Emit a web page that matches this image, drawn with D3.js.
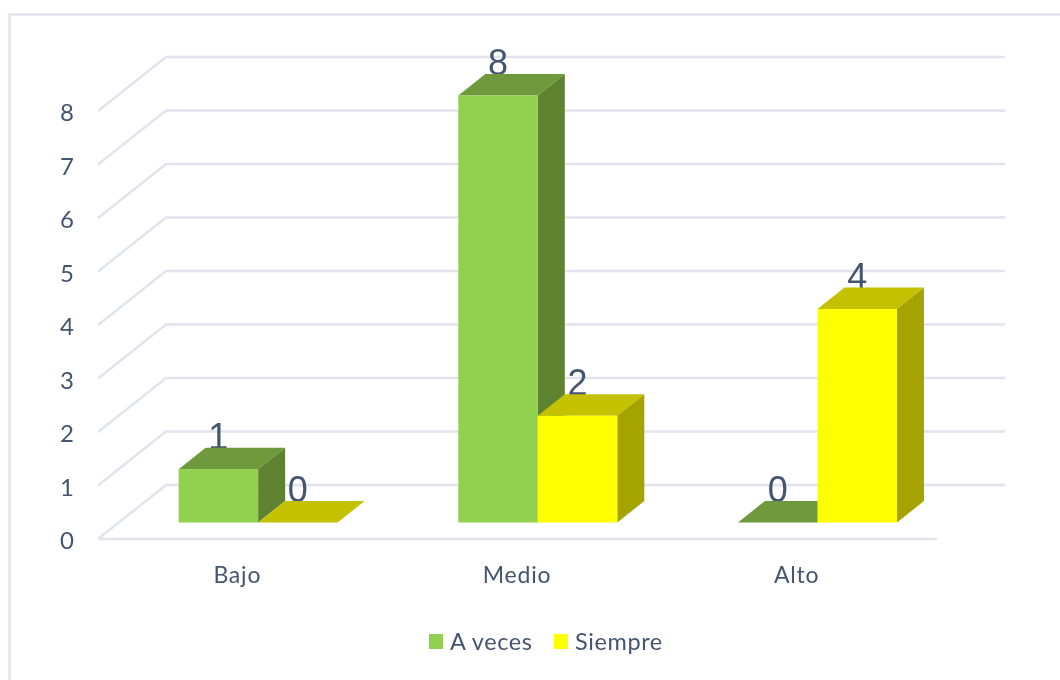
<!DOCTYPE html>
<html><head><meta charset="utf-8">
<script src="https://cdn.jsdelivr.net/npm/d3@7"></script>
<style>html,body{margin:0;padding:0;background:#fff}svg{display:block;filter:blur(0.45px)}text{font-family:Lato,"Open Sans",sans-serif}</style>
</head><body><svg id="c" width="1060" height="680"></svg>
<script>
const categories = ["Bajo","Medio","Alto"];
const seriesNames = ["A veces","Siempre"];
const aVeces = [1,8,0];
const siempre = [0,2,4];
const yTicks = [0,1,2,3,4,5,6,7,8];
const seriesValues = [aVeces, siempre];
const fronts = ["#92d050","#ffff00"];
const tops = ["#6f9a3c","#c4c200"];
const sides = ["#5e8230","#a5a300"];
const gridColor = "#e0e4ec", textColor = "#44556f";

const svg = d3.select("#c");
const x = d3.scaleBand().domain(categories).range([98,937]);
const y = d3.scaleLinear().domain([0,8]).range([539,111]);
const barY = d3.scaleLinear().domain([0,8]).range([522.5,95.5]);
const dx = 68, dy = -54;
const barDx = 27, barDy = -21.5;
const inDx = 20.3;
const groupW = 159;
const xs = d3.scaleBand().domain(d3.range(seriesNames.length)).range([0,groupW]);

svg.append("path").attr("d","M9.5,680V14.5H1060").attr("fill","none").attr("stroke","#e0e4ec").attr("stroke-width",2.5);

const grid = svg.append("g").attr("fill","none").attr("stroke",gridColor).attr("stroke-width",2.4);
grid.selectAll("path").data(yTicks).join("path")
  .attr("d",t=>`M${x.range()[0]},${y(t)}L${x.range()[0]+dx},${y(t)+dy}H${x.range()[1]+dx}`);
grid.append("path").attr("d",`M${x.range()[0]},${y(0)}H${x.range()[1]}`);

svg.append("g").selectAll("text").data(yTicks).join("text")
  .attr("x",67).attr("y",t=>y(t)+10).attr("text-anchor","middle")
  .attr("font-size",24).attr("fill",textColor).text(t=>t);

svg.append("g").selectAll("text").data(categories).join("text")
  .attr("x",c=>x(c)+x.bandwidth()/2-0.5).attr("y",y(0)+44).attr("text-anchor","middle")
  .attr("font-size",23).attr("letter-spacing",0.8).attr("fill",textColor).text(c=>c);

const bars = [];
categories.forEach((c,i)=>seriesNames.forEach((s,j)=>bars.push({c,j,v:seriesValues[j][i]})));
const base = barY(0);

const labelSel = svg.append("g");
const barG = svg.append("g");
bars.forEach(b=>{
  const x0 = x(b.c)+x.bandwidth()/2-groupW/2+inDx+xs(b.j), w = xs.bandwidth();
  const top = barY(b.v);
  const g = barG.append("g");
  g.append("path").attr("fill",tops[b.j])
    .attr("d",`M${x0},${top}l${barDx},${barDy}h${w}l${-barDx},${-barDy}Z`);
  if(b.v>0){
    g.append("path").attr("fill",sides[b.j])
      .attr("d",`M${x0+w},${top}l${barDx},${barDy}V${base+barDy}l${-barDx},${-barDy}Z`);
    g.append("rect").attr("x",x0).attr("y",top).attr("width",w).attr("height",base-top).attr("fill",fronts[b.j]);
  }
  labelSel.append("text").attr("x",x0+w/2).attr("y",top-20.5)
    .attr("text-anchor","middle").attr("font-size",36)
    .style("font-family",'"Liberation Sans Narrow","Liberation Sans",sans-serif')
    .attr("fill",textColor).text(b.v);
});

const legendX = [429,554], legendTextX = [450,575];
const leg = svg.append("g");
seriesNames.forEach((s,j)=>{
  leg.append("rect").attr("x",legendX[j]).attr("y",634).attr("width",14).attr("height",15).attr("fill",fronts[j]);
  leg.append("text").attr("x",legendTextX[j]).attr("y",650).attr("font-size",23.5).attr("letter-spacing",0.6).attr("fill",textColor).text(s);
});
</script></body></html>
